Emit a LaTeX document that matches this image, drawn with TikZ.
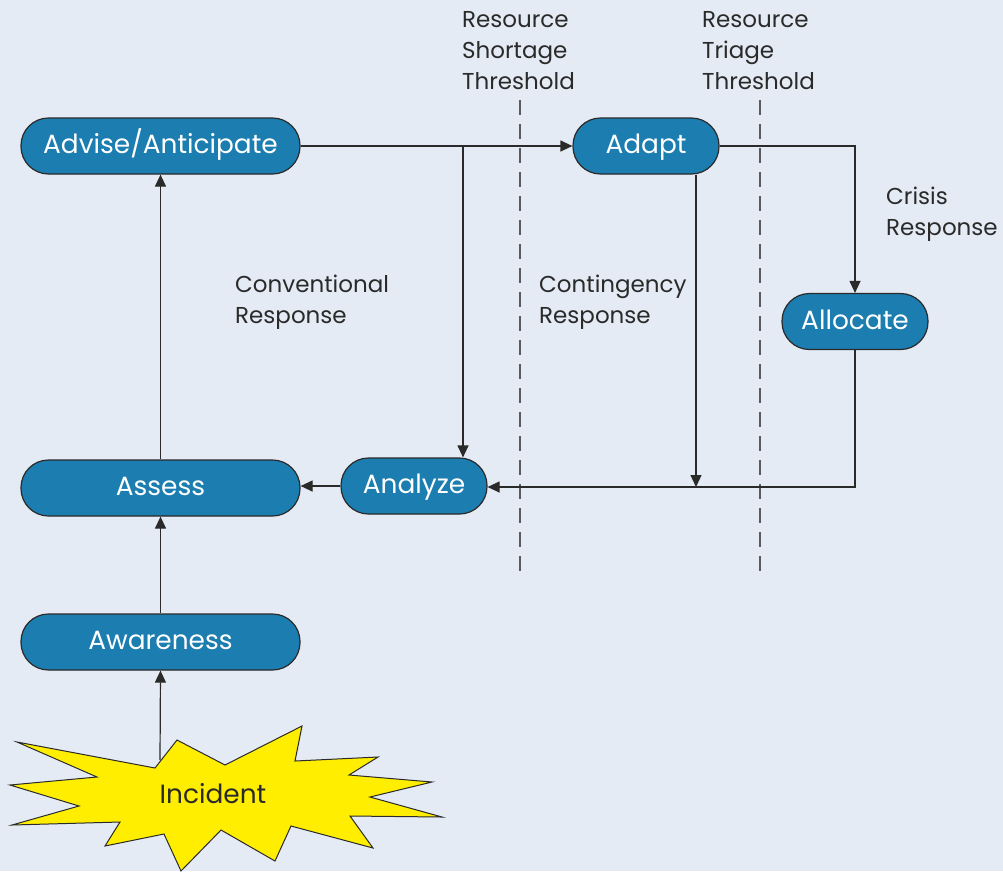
\documentclass[tikz,border=0pt]{standalone}
\usepackage{fontspec}
\setmainfont{Poppins}
\usetikzlibrary{arrows.meta}
\definecolor{bgc}{HTML}{E4EBF4}
\definecolor{boxc}{HTML}{1C7DB0}
\definecolor{linec}{HTML}{2A2A2A}
\definecolor{dashc}{HTML}{5A5A5A}
\definecolor{burst}{HTML}{FFEE00}
\tikzset{
  stage/.style={draw=linec, line width=1.2pt, fill=boxc, rounded corners=27.5pt,
    minimum height=56pt, inner sep=0pt, text=white, font=\fontsize{26.4}{30}\selectfont,
    text height=1.55em, text depth=0pt},
  wide/.style={stage, minimum width=279pt},
  narrow/.style={stage, minimum width=146pt},
  conn/.style={draw=linec, line width=1.2pt, -{Triangle[length=12pt,width=11pt]}},
  plain/.style={draw=linec, line width=1.2pt},
  thresh/.style={draw=dashc, line width=1.5pt, dash pattern=on 15pt off 9pt},
  lbl/.style={anchor=base west, align=left, inner sep=0pt, text=linec,
    font=\fontsize{23}{31}\selectfont},
}
\begin{document}
\begin{tikzpicture}[x=1pt,y=-1pt]
\fill[bgc] (0,0) rectangle (1003,871);
\useasboundingbox (0,0) rectangle (1003,871);

% thresholds
\coordinate (t1a) at (520,100); \coordinate (t1b) at (520,572);
\coordinate (t2a) at (760,100); \coordinate (t2b) at (760,572);
\draw[thresh] (t1a) -- (t1b);
\draw[thresh] (t2a) -- (t2b);

% nodes
\node[wide] (adv) at (160.5,146) {Advise/Anticipate};
\node[narrow] (adapt) at (646,146) {Adapt};
\node[narrow] (alloc) at (855,321.5) {Allocate};
\node[narrow] (analyze) at (414,486) {Analyze};
\node[wide] (assess) at (160.5,488) {Assess};
\node[wide] (aware) at (160.5,642) {Awareness};

% incident
\coordinate (incTop) at (160,760);
\draw[conn] (incTop) -- (aware.south);
\fill[burst, draw=linec, line width=1pt, line join=miter]
  (17,742) -- (155,768) -- (177,740) -- (225,765) -- (302,726) -- (295,761)
  -- (378,757) -- (349,775) -- (432,782) -- (370,797) -- (442,817) -- (350,816)
  -- (373,848) -- (291,826) -- (275,861) -- (221,830) -- (181,871) -- (164,834)
  -- (105,846) -- (120,822) -- (12,825) -- (79,806) -- (10,785) -- (97,777) -- cycle;
\node[inner sep=0pt, text=linec, font=\fontsize{26.4}{30}\selectfont,
  text height=1.55em, text depth=0pt] (inc) at (213,796) {Incident};

% labels (anchor = baseline of last line)
\node[lbl] (lShort) at (462,89) {Resource\\Shortage\\Threshold};
\node[lbl] (lTriage) at (702,89) {Resource\\Triage\\Threshold};
\node[lbl] (lConv) at (235,323) {Conventional\\Response};
\node[lbl] (lCont) at (539,323) {Contingency\\Response};
\node[lbl] (lCrisis) at (886,235) {Crisis\\Response};

% connectors
\draw[conn] (aware.north) -- (assess.south);
\draw[conn] (assess.north) -- (adv.south);
\draw[conn] (adv.east) -- (adapt.west);
\coordinate (j1) at (463,146);
\draw[conn] (j1) -- (j1 |- analyze.north);
\draw[conn] (adapt.east) -| (alloc.north);
\coordinate (c2) at (696,487);
\draw[conn] (adapt.south -| c2) -- (c2);
\draw[conn] (alloc.south) |- (analyze.east |- c2);
\draw[conn] (analyze.west) -- (assess.east |- analyze.west);
\end{tikzpicture}
\end{document}
